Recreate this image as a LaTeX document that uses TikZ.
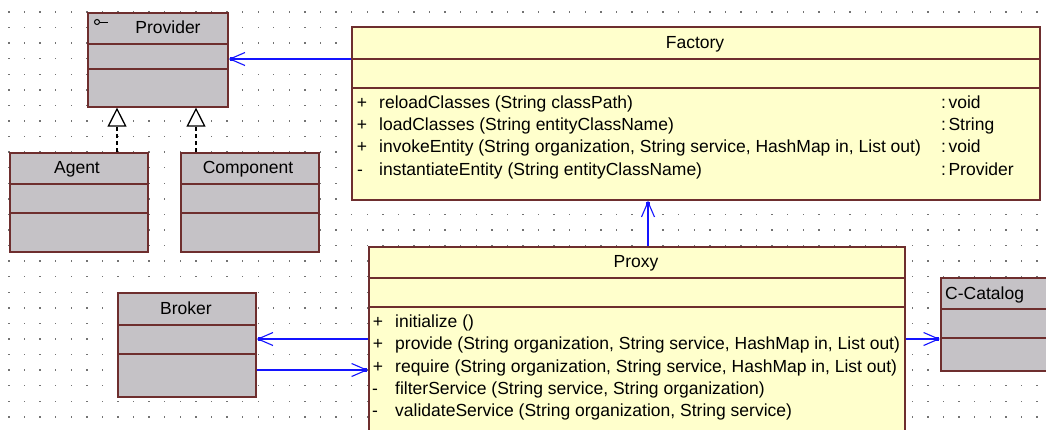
\documentclass[tikz,border=0pt]{standalone}
\usepackage{fontspec}
\setmainfont{Liberation Sans}
\usetikzlibrary{arrows.meta,calc}

\definecolor{umlgray}{RGB}{197,194,198}
\definecolor{umlyellow}{RGB}{255,255,204}
\definecolor{umlborder}{RGB}{110,46,46}
\definecolor{umlblue}{RGB}{20,20,255}
\definecolor{griddot}{RGB}{115,115,115}

\newcommand{\rtype}[1]{:\kern2.5pt#1}

\begin{document}
\begin{tikzpicture}[x=1pt,y=-1pt,
  txt/.style={font=\fontsize{17.5}{21}\selectfont, inner sep=0pt, text=black},
  graybox/.style={draw=umlborder, fill=umlgray, line width=1.6pt, inner sep=0pt, anchor=north west},
  yellowbox/.style={draw=umlborder, fill=umlyellow, line width=1.6pt, inner sep=0pt, anchor=north west},
  divider/.style={draw=umlborder, line width=1.6pt},
  assoc/.style={draw=umlblue, line width=1.3pt, -{Straight Barb[length=15pt,width=13pt,line width=1.1pt]}},
  tipsq/.style={fill=umlblue},
  realize/.style={draw=black, line width=1.3pt, dash pattern=on 4pt off 3pt,
    -{Triangle[fill=white, length=19pt, width=19pt, line width=1.3pt]}},
]
\useasboundingbox (0,0) rectangle (1046,429);
\fill[white] (0,0) rectangle (1046,429);

% drawing grid
\foreach \i in {0,...,66}{
  \foreach \j in {0,...,26}{
    \fill[griddot] ({9+15.575*\i-0.7},{12+15.57*\j-0.7}) rectangle ++(1.4,1.4);
  }
}

% ---------- class boxes ----------
\node[graybox, minimum width=140pt, minimum height=94pt] (prov) at (87,12) {};
\draw[divider] (prov.west |- 0,44) -- (prov.east |- 0,44);
\draw[divider] (prov.west |- 0,69) -- (prov.east |- 0,69);
\draw[line width=1pt] (97,22) circle (2.5);
\draw[line width=1pt] (99.5,22) -- (108,22);
\node[txt, anchor=base] (provT) at (168,33.5) {Provider};

\node[graybox, minimum width=138pt, minimum height=99pt] (agent) at (9,152) {};
\draw[divider] (agent.west |- 0,184) -- (agent.east |- 0,184);
\draw[divider] (agent.west |- 0,213) -- (agent.east |- 0,213);
\node[txt, anchor=base] (agentT) at (77,173) {Agent};

\node[graybox, minimum width=138pt, minimum height=99pt] (comp) at (180,152) {};
\draw[divider] (comp.west |- 0,184) -- (comp.east |- 0,184);
\draw[divider] (comp.west |- 0,213) -- (comp.east |- 0,213);
\node[txt, anchor=base] (compT) at (248,173) {Component};

\node[graybox, minimum width=138pt, minimum height=104pt] (brok) at (117,292) {};
\draw[divider] (brok.west |- 0,325) -- (brok.east |- 0,325);
\draw[divider] (brok.west |- 0,354) -- (brok.east |- 0,354);
\node[txt, anchor=base] (brokT) at (186,314) {Broker};

\node[graybox, minimum width=130pt, minimum height=93pt] (cat) at (940,277) {};
\draw[divider] (cat.west |- 0,309) -- (cat.east |- 0,309);
\draw[divider] (cat.west |- 0,338) -- (cat.east |- 0,338);
\node[txt, anchor=base west] (catT) at (945,299) {C-Catalog};

% Factory
\node[yellowbox, minimum width=688pt, minimum height=173pt] (fac) at (351,26) {};
\draw[divider] (fac.west |- 0,59) -- (fac.east |- 0,59);
\draw[divider] (fac.west |- 0,88) -- (fac.east |- 0,88);
\node[txt, anchor=base] (facT) at (695,48.5) {Factory};
\node[txt, anchor=base] (f1s) at (362,108) {+};
\node[txt, anchor=base west] (f1) at (379,108) {reloadClasses (String classPath)};
\node[txt, anchor=base west] (f1r) at (941,108) {\rtype{void}};
\node[txt, anchor=base] (f2s) at (362,130.3) {+};
\node[txt, anchor=base west] (f2) at (379,130.3) {loadClasses (String entityClassName)};
\node[txt, anchor=base west] (f2r) at (941,130.3) {\rtype{String}};
\node[txt, anchor=base] (f3s) at (362,152.6) {+};
\node[txt, anchor=base west] (f3) at (379,152.6) {invokeEntity (String organization, String service, HashMap in, List out)};
\node[txt, anchor=base west] (f3r) at (941,152.6) {\rtype{void}};
\node[txt, anchor=base] (f4s) at (360,175) {-};
\node[txt, anchor=base west] (f4) at (379,175) {instantiateEntity (String entityClassName)};
\node[txt, anchor=base west] (f4r) at (941,175) {\rtype{Provider}};

% Proxy
\node[yellowbox, minimum width=536pt, minimum height=200pt] (prox) at (368,246) {};
\draw[divider] (prox.west |- 0,278) -- (prox.east |- 0,278);
\draw[divider] (prox.west |- 0,307) -- (prox.east |- 0,307);
\node[txt, anchor=base] (proxT) at (636,267.5) {Proxy};
\node[txt, anchor=base] (p1s) at (378,327.5) {+};
\node[txt, anchor=base west] (p1) at (395,327.5) {initialize ()};
\node[txt, anchor=base] (p2s) at (378,349.7) {+};
\node[txt, anchor=base west] (p2) at (395,349.7) {provide (String organization, String service, HashMap in, List out)};
\node[txt, anchor=base] (p3s) at (378,372) {+};
\node[txt, anchor=base west] (p3) at (395,372) {require (String organization, String service, HashMap in, List out)};
\node[txt, anchor=base] (p4s) at (375,394) {-};
\node[txt, anchor=base west] (p4) at (395,394) {filterService (String service, String organization)};
\node[txt, anchor=base] (p5s) at (375,416) {-};
\node[txt, anchor=base west] (p5) at (395,416) {validateService (String organization, String service)};

% ---------- realizations ----------
\draw[realize] (agent.north -| 117,0) -- (prov.south -| 117,0);
\draw[realize] (comp.north -| 196,0) -- (prov.south -| 196,0);

% ---------- associations ----------
\draw[assoc] (fac.west |- 0,59) -- (prov.east |- 0,59);
\fill[tipsq] ($(prov.east |- 0,59)+(1,-2)$) rectangle ++(4,4);

\draw[assoc] (prox.north -| 648,0) -- (fac.south -| 648,0);
\fill[tipsq] ($(fac.south -| 648,0)+(-2,1)$) rectangle ++(4,4);

\draw[assoc] (prox.west |- 0,339) -- (brok.east |- 0,339);
\fill[tipsq] ($(brok.east |- 0,339)+(1,-2)$) rectangle ++(4,4);

\draw[assoc] (brok.east |- 0,370) -- (prox.west |- 0,370);
\fill[tipsq] ($(prox.west |- 0,370)+(-5,-2)$) rectangle ++(4,4);

\draw[assoc] (prox.east |- 0,339) -- (cat.west |- 0,339);
\fill[tipsq] ($(cat.west |- 0,339)+(-5,-2)$) rectangle ++(4,4);
\end{tikzpicture}
\end{document}
